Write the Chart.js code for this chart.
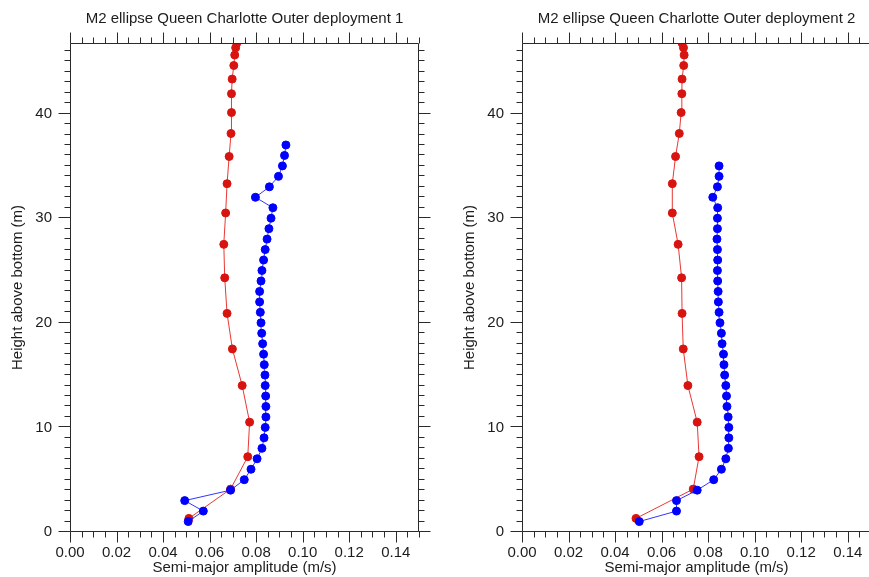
<!DOCTYPE html>
<html>
<head>
<meta charset="utf-8">
<title>M2 ellipse Queen Charlotte Outer</title>
<script src="https://cdn.jsdelivr.net/npm/chart.js@4/dist/chart.umd.min.js"></script>
<style>
    html, body { margin: 0; padding: 0; background: #fff; }
    body { width: 869px; height: 577px; overflow: hidden; position: relative; }
    .panel { position: absolute; top: 0; }
    #panel1 { left: 0; }
    #panel2 { left: 452px; }
</style>
</head>
<body>
<canvas id="panel1" class="panel" width="442" height="577"></canvas>
<canvas id="panel2" class="panel" width="442" height="577"></canvas>
<script>
// axis ticks
const xMajorTicks = [0, 0.02, 0.04, 0.06, 0.08, 0.10, 0.12, 0.14];
const yMajorTicks = [0, 10, 20, 30, 40];
const X_MAX = 0.15;
const Y_MAX = 46.75;

// model levels (m above bottom), same for both deployments
const modelHeights = [1.3, 4.1, 7.2, 10.5, 14.0, 17.5, 20.9, 24.3, 27.5, 30.5,
    33.3, 35.9, 38.1, 40.1, 41.9, 43.3, 44.6, 45.6, 46.3, 46.75];

// deployment 1
const obsHeights1 = [1, 2, 3, 4, 5, 6, 7, 8, 9, 10, 11, 12, 13, 14, 15, 16, 17, 18, 19,
    20, 21, 22, 23, 24, 25, 26, 27, 28, 29, 30, 31, 32, 33, 34, 35, 36, 37];
const obsAmp1 = [0.0508, 0.0573, 0.0493, 0.0690, 0.0749, 0.0778, 0.0804, 0.0825, 0.0834, 0.0839,
    0.0842, 0.0842, 0.0841, 0.0839, 0.0838, 0.0835, 0.0832, 0.0828, 0.0824, 0.0821,
    0.0818, 0.0815, 0.0815, 0.0821, 0.0825, 0.0832, 0.0839, 0.0847, 0.0855, 0.0864,
    0.0872, 0.0797, 0.0857, 0.0896, 0.0913, 0.0922, 0.0928];
const modelAmp1 = [0.0511, 0.0690, 0.0764, 0.0772, 0.0740, 0.0698, 0.0675, 0.0665, 0.0661, 0.0669,
    0.0675, 0.0684, 0.0692, 0.0694, 0.0694, 0.0697, 0.0704, 0.0708, 0.0712, 0.0717];

// deployment 2
const obsHeights2 = [1, 2, 3, 4, 5, 6, 7, 8, 9, 10, 11, 12, 13, 14, 15, 16, 17, 18, 19,
    20, 21, 22, 23, 24, 25, 26, 27, 28, 29, 30, 31, 32, 33, 34, 35];
const obsAmp2 = [0.0504, 0.0664, 0.0664, 0.0753, 0.0824, 0.0857, 0.0876, 0.0887, 0.0889, 0.0889,
    0.0886, 0.0881, 0.0879, 0.0876, 0.0871, 0.0868, 0.0866, 0.0860, 0.0857, 0.0851,
    0.0847, 0.0844, 0.0843, 0.0841, 0.0840, 0.0841, 0.0840, 0.0838, 0.0840, 0.0840,
    0.0841, 0.0820, 0.0840, 0.0847, 0.0847];
const modelAmp2 = [0.0490, 0.0736, 0.0761, 0.0753, 0.0713, 0.0693, 0.0688, 0.0686, 0.0671, 0.0646,
    0.0646, 0.0660, 0.0676, 0.0684, 0.0687, 0.0688, 0.0695, 0.0697, 0.0694, 0.0688];

const FONT = "'Liberation Sans', Arial, Helvetica, sans-serif";
const TEXT = '#1c1c1c';
const FRAME = '#2a2a2a';

function toPoints(amps, heights) {
    return amps.map((a, i) => ({ x: a, y: heights[i] }));
}

// box round the plot with outward major/minor ticks on all four sides
const frameTicks = {
    id: 'frameTicks',
    afterDraw(chart) {
        const { ctx, chartArea: a, scales: { x, y } } = chart;
        const L = Math.round(a.left) + 0.5, R = Math.round(a.right) - 0.5;
        const T = Math.round(a.top) + 0.5, B = Math.round(a.bottom) - 0.5;
        ctx.save();
        ctx.strokeStyle = FRAME;
        ctx.lineWidth = 1;
        ctx.beginPath();
        ctx.rect(L, T, R - L, B - T);

        for (let i = 0; i <= 30; i++) {
            const px = Math.round(x.getPixelForValue(i * 0.005)) + 0.5;
            const len = i % 4 === 0 ? 11 : 6;
            ctx.moveTo(px, B); ctx.lineTo(px, B + len);
            ctx.moveTo(px, T); ctx.lineTo(px, T - len);
        }
        for (let i = 0; i <= Math.floor(Y_MAX); i++) {
            const py = Math.round(y.getPixelForValue(i)) - 0.5;
            const len = i % 10 === 0 ? 12 : 6;
            ctx.moveTo(L, py); ctx.lineTo(L - len, py);
            ctx.moveTo(R, py); ctx.lineTo(R + len, py);
        }
        ctx.stroke();
        ctx.restore();
    }
};

function makePanel(canvasId, title, obsAmp, obsHeights, modelAmp) {
    const ctx = document.getElementById(canvasId).getContext('2d');
    const noGrid = { display: false, drawTicks: false };

    return new Chart(ctx, {
        type: 'scatter',
        data: {
            datasets: [{
                label: 'observed',
                data: toPoints(obsAmp, obsHeights),
                showLine: true,
                borderColor: 'rgba(30,30,255,0.9)',
                borderWidth: 1,
                pointRadius: 4,
                pointBorderWidth: 1,
                pointBackgroundColor: '#0000ff',
                pointBorderColor: '#0000ff',
                order: 0
            }, {
                label: 'model',
                data: toPoints(modelAmp, modelHeights),
                showLine: true,
                borderColor: 'rgba(228,36,30,0.9)',
                borderWidth: 1,
                pointRadius: 4,
                pointBorderWidth: 1,
                pointBackgroundColor: '#d81410',
                pointBorderColor: '#d81410',
                order: 1
            }]
        },
        options: {
            responsive: false,
            animation: false,
            devicePixelRatio: 1,
            layout: { padding: 0 },
            plugins: {
                legend: { display: false },
                tooltip: { enabled: false },
                title: { display: false }
            },
            scales: {
                x: {
                    type: 'linear',
                    position: 'bottom',
                    min: 0,
                    max: X_MAX,
                    grid: noGrid,
                    border: { display: false },
                    afterBuildTicks: s => { s.ticks = xMajorTicks.map(v => ({ value: v })); },
                    ticks: {
                        padding: 12,
                        color: TEXT,
                        font: { family: FONT, size: 15 },
                        maxRotation: 0,
                        callback: v => Number(v).toFixed(2)
                    },
                    title: {
                        display: true,
                        text: 'Semi-major amplitude (m/s)',
                        color: TEXT,
                        font: { family: FONT, size: 15 },
                        padding: 0
                    },
                    afterFit: s => { s.height = 45; }
                },
                xTop: {
                    type: 'linear',
                    axis: 'x',
                    position: 'top',
                    min: 0,
                    max: X_MAX,
                    grid: noGrid,
                    border: { display: false },
                    ticks: { display: false },
                    title: {
                        display: true,
                        text: title,
                        color: TEXT,
                        font: { family: FONT, size: 15 },
                        padding: { top: 10, bottom: 0 }
                    },
                    afterFit: s => { s.height = 43; }
                },
                y: {
                    type: 'linear',
                    position: 'left',
                    min: 0,
                    max: Y_MAX,
                    grid: noGrid,
                    border: { display: false },
                    afterBuildTicks: s => { s.ticks = yMajorTicks.map(v => ({ value: v })); },
                    ticks: {
                        padding: 18,
                        color: TEXT,
                        font: { family: FONT, size: 15 }
                    },
                    title: {
                        display: true,
                        text: 'Height above bottom (m)',
                        color: TEXT,
                        font: { family: FONT, size: 15 },
                        padding: { top: 9, bottom: 0 }
                    },
                    afterFit: s => { s.width = 70; }
                },
                yRight: {
                    type: 'linear',
                    axis: 'y',
                    position: 'right',
                    min: 0,
                    max: Y_MAX,
                    grid: noGrid,
                    border: { display: false },
                    ticks: { display: false },
                    afterFit: s => { s.width = 23; }
                }
            }
        },
        plugins: [frameTicks]
    });
}

makePanel('panel1', 'M2 ellipse Queen Charlotte Outer deployment 1', obsAmp1, obsHeights1, modelAmp1);
makePanel('panel2', 'M2 ellipse Queen Charlotte Outer deployment 2', obsAmp2, obsHeights2, modelAmp2);
</script>
</body>
</html>
